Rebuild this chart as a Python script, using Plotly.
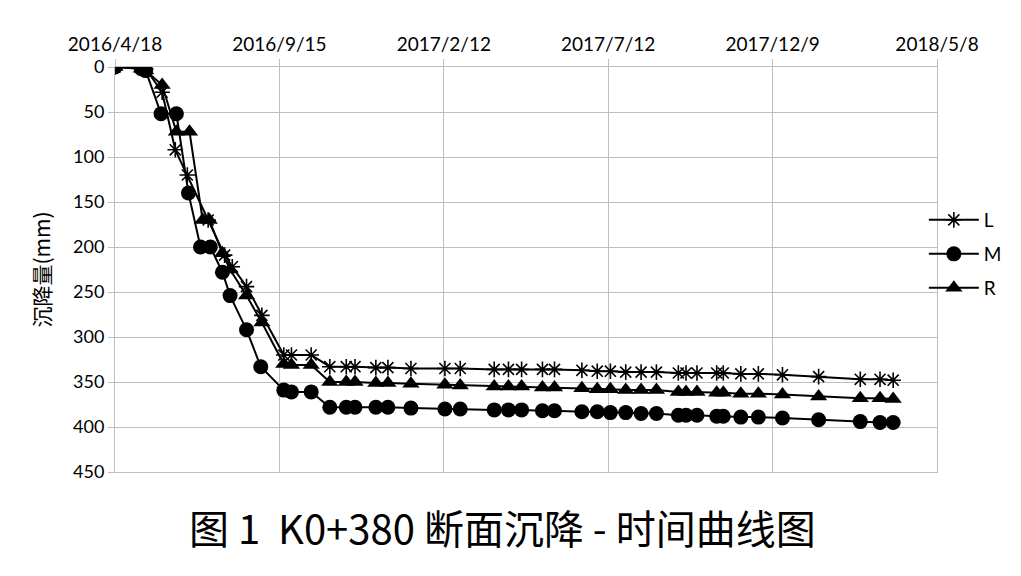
import pandas as pd
import plotly.graph_objects as go

start_date = "2016-04-18"
tick_labels = ["2016/4/18", "2016/9/15", "2017/2/12", "2017/7/12", "2017/12/9", "2018/5/8"]
tick_days = [0, 150, 300, 450, 600, 750]

tail_days = [154, 161, 179, 196, 211, 219, 238, 249, 270, 301, 315, 346, 359, 371, 390, 401,
             426, 440, 452, 466, 480, 494, 514, 521, 531, 549, 555, 571, 587, 609, 642, 680, 698, 710]

L_days = [0, 24, 28, 43, 55, 66, 85, 100, 107, 120, 134] + tail_days
L_vals = [0, 0, 2, 28, 92, 120, 170, 209, 222, 244, 276,
          320, 320, 320, 333, 333, 333, 334, 334, 335, 335, 335, 336, 336, 336, 336, 336,
          337, 338, 338, 339, 339, 339, 340, 340, 340, 340, 340, 341, 341, 342, 344, 347, 347, 348]

M_days = [0, 24, 28, 42, 56, 67, 78, 87, 98, 105, 120, 133] + tail_days
M_vals = [0, 2, 4, 52, 52, 140, 200, 200, 228, 254, 292, 333,
          359, 361, 361, 378, 378, 378, 378, 378, 379, 380, 380, 381, 381, 381, 382, 382,
          383, 383, 384, 384, 385, 385, 387, 387, 387, 388, 388, 389, 389, 390, 392, 394, 395, 395]

R_days = [0, 24, 28, 43, 56, 68, 80, 86, 98, 105, 120, 134] + tail_days
R_vals = [0, 2, 4, 20, 72, 72, 170, 170, 207, 225, 254, 284,
          330, 331, 331, 350, 350, 350, 351, 351, 352, 353, 354, 355, 355, 355, 356, 356,
          357, 358, 358, 359, 359, 359, 361, 361, 361, 362, 362, 363, 363, 364, 366, 368, 368, 369]

y_ticks = [0, 50, 100, 150, 200, 250, 300, 350, 400, 450]

base = pd.Timestamp(start_date)
def to_dates(days):
    return [base + pd.Timedelta(days=d) for d in days]

fig = go.Figure()
series = [
    ("L", L_days, L_vals, dict(symbol="asterisk-open", size=13, color="black", line=dict(color="black", width=1.6)), "legend"),
    ("M", M_days, M_vals, dict(symbol="circle", size=15, color="black"), "legend2"),
    ("R", R_days, R_vals, dict(symbol="triangle-up", size=15, color="black"), "legend3"),
]
for name, d, v, mk, lg in series:
    fig.add_trace(go.Scatter(x=to_dates(d), y=v, name=name, mode="lines+markers",
                             line=dict(color="black", width=2), marker=mk, legend=lg))

grid = "#bfbfbf"
font_lat = "Lato, 'Noto Sans', sans-serif"
# page body has an 8px margin; design in figure coordinates (screen - 8)
W, H = 1013, 568
plot_top, plot_bottom, plot_left, plot_right = 59, 464, 107, 929
legend_common = dict(x=0.984, xanchor="left", yanchor="middle", bgcolor="rgba(0,0,0,0)",
                     font=dict(family=font_lat, size=19, color="black"), borderwidth=0,
                     itemwidth=50)
def py(pix):
    return 1 - (pix - 8 - plot_top) / (plot_bottom - plot_top)

fig.update_layout(
    width=W, height=H,
    margin=dict(l=plot_left, r=W - plot_right, t=plot_top, b=H - plot_bottom),
    paper_bgcolor="white", plot_bgcolor="white",
    showlegend=True,
    legend=dict(y=py(220), **legend_common),
    legend2=dict(y=py(254), **legend_common),
    legend3=dict(y=py(288), **legend_common),
    xaxis=dict(
        type="date", side="top",
        range=[base, base + pd.Timedelta(days=750)],
        tickvals=to_dates(tick_days), ticktext=tick_labels,
        tickfont=dict(family=font_lat, size=19, color="black"),
        showgrid=True, gridcolor=grid, gridwidth=1,
        showline=True, linecolor=grid, linewidth=1, mirror=True,
        ticks="outside", ticklen=7, tickcolor=grid,
        zeroline=False,
    ),
    yaxis=dict(
        range=[450, 0], tickvals=y_ticks,
        tickfont=dict(family=font_lat, size=18, color="black"),
        showgrid=True, gridcolor=grid, gridwidth=1,
        showline=True, linecolor=grid, linewidth=1, mirror=True,
        ticks="outside", ticklen=6, tickcolor=grid,
        zeroline=False,
        title=dict(text="沉降量(mm)", font=dict(family="Noto Sans CJK SC", size=21, color="black"), standoff=16),
    ),
    annotations=[dict(
        text="图 1  K0+380 断面沉降 - 时间曲线图", xref="paper", yref="paper",
        x=(502 - 8 - plot_left) / (plot_right - plot_left),
        y=py(527), xanchor="center", yanchor="middle", showarrow=False,
        font=dict(family="Noto Sans CJK SC", size=40, color="black"),
    )],
)

fig.write_html("out.html")
